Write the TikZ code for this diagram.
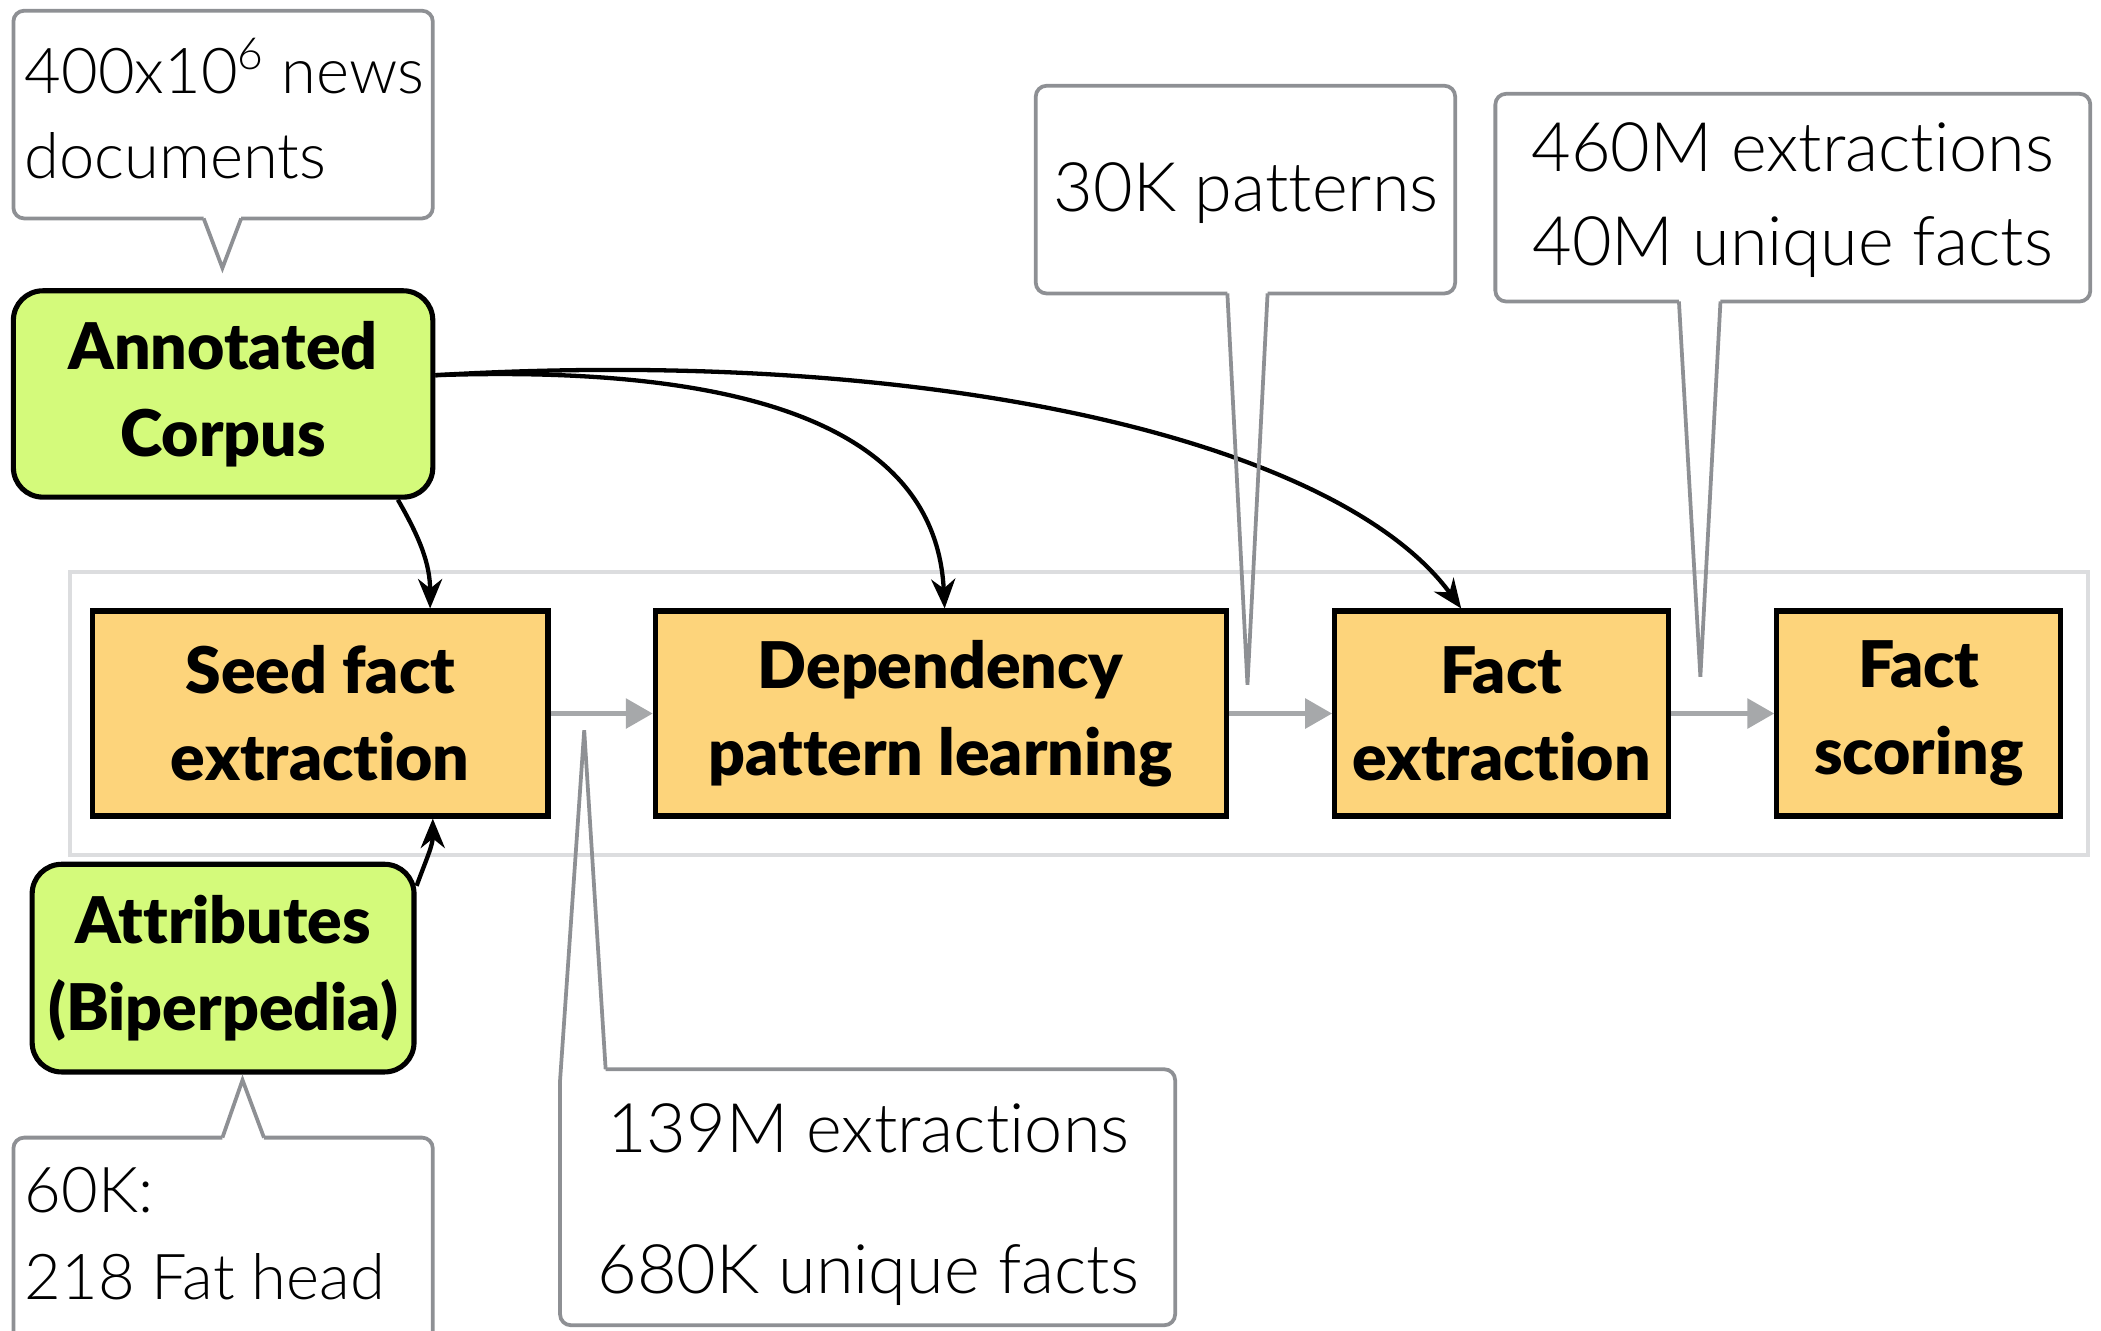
\documentclass[tikz,border=0pt]{standalone}
\usepackage{fontspec}
\setmainfont{Lato Light}[Ligatures=NoCommon]
\newfontfamily\heavyfont{Lato Black}[Ligatures=NoCommon]
\usetikzlibrary{arrows.meta}
\definecolor{limefill}{HTML}{D4FA7B}
\definecolor{peachfill}{HTML}{FDD47B}
\definecolor{calloutgray}{HTML}{8E9094}
\definecolor{framegray}{HTML}{DCDDDF}
\definecolor{flowgray}{HTML}{A6A8AA}
\begin{document}
\begin{tikzpicture}[x=0.5pt,y=-0.5pt,
  stagebox/.style={draw=black, line width=1.9pt, fill=peachfill, align=center,
    font=\heavyfont\fontsize{24}{32.5}\selectfont, inner sep=0pt, minimum height=76.5pt},
  sourcebox/.style={stagebox, fill=limefill, rounded corners=11pt, minimum height=77pt},
  frame/.style={draw=framegray, line width=1.5pt, inner sep=0pt},
  cline/.style={draw=calloutgray, line width=1.4pt},
  ctext/.style={font=\fontsize{25.5}{30}\selectfont, inner sep=0pt},
  ctextsmall/.style={font=\fontsize{23.6}{30}\selectfont, inner sep=0pt},
  flow/.style={draw=flowgray, line width=1.6pt, -{Triangle[length=10pt,width=11pt]}},
  feed/.style={draw=black, line width=1.6pt, -{Stealth[length=11pt,width=9pt]}}
]
\useasboundingbox (0,0) rectangle (1568,993);
\clip (0,0) rectangle (1568,993);

% pipeline frame
\node[frame, minimum width=753pt, minimum height=105.5pt] (pipeline) at (805,532.5) {};

% source nodes
\node[sourcebox, minimum width=156.5pt] (corpus) at (166.5,294) {Annotated\\Corpus};
\node[sourcebox, minimum width=142.5pt, minimum height=77.5pt] (attrs) at (166.5,722.5) {Attributes\\(Biperpedia)};

% stages
\node[stagebox, minimum width=170pt] (seed) at (239,532.5) {Seed fact\\extraction};
\node[stagebox, minimum width=213pt] (dep) at (702,532.5) {Dependency\\pattern learning};
\node[stagebox, minimum width=124.5pt] (fext) at (1120.5,532.5) {Fact\\extraction};
\node[stagebox, minimum width=106pt] (fscore) at (1432,532.5) {Fact\\scoring};

% flow arrows
\draw[flow] (seed) -- (dep);
\draw[flow] (dep) -- (fext);
\draw[flow] (fext) -- (fscore);

% feed arrows
\draw[feed] ([xshift=-14pt]corpus.south east) to[out=-60,in=90] ([xshift=41pt]seed.north);
\draw[feed] ([yshift=7pt]corpus.east) .. controls (620,270) and (700,350) .. ([xshift=1.5pt]dep.north);
\draw[feed] ([yshift=7pt]corpus.east) .. controls (700,258) and (1000,330) .. ([xshift=-15pt]fext.north);
\draw[feed] ([yshift=-9pt]attrs.north east) to[out=70,in=-90] ([xshift=42pt]seed.south);

% callout A
\draw[cline, rounded corners=4pt] (180,163) -- (323,163) -- (323,8) -- (10,8) -- (10,163) -- (152,163);
\draw[cline] (152,163) -- (166,200) -- (180,163);
\node[ctextsmall, anchor=base west] (a1) at (18,70) {400x10\textsuperscript{6} news};
\node[ctextsmall, anchor=base west] (a2) at (18,133) {documents};

% callout B
\draw[cline, rounded corners=4pt] (197,849) -- (323,849) -- (323,1010);
\draw[cline, rounded corners=4pt] (166,849) -- (10,849) -- (10,1010);
\draw[cline] (166,849) -- (181,806) -- (197,849);
\node[ctextsmall, anchor=base west] (b1) at (18,905) {60K:};
\node[ctextsmall, anchor=base west] (b2) at (18,970) {218 Fat head};

% callout C
\draw[cline, rounded corners=4pt] (452,798) -- (877,798) -- (877,989) -- (418,989) -- (418,806);
\draw[cline] (418,806) -- (436,545) -- (452,798);
\node[ctext, anchor=base] (c1) at (648,860) {139M extractions};
\node[ctext, anchor=base] (c2) at (648,965) {680K unique facts};

% callout D
\draw[cline, rounded corners=4pt] (946,219) -- (1086,219) -- (1086,64) -- (773,64) -- (773,219) -- (916,219);
\draw[cline] (916,219) -- (931,511) -- (946,219);
\node[ctext, anchor=base] (d1) at (930,158) {30K patterns};

% callout E
\draw[cline, rounded corners=4pt] (1284,225) -- (1560,225) -- (1560,70) -- (1116,70) -- (1116,225) -- (1253,225);
\draw[cline] (1253,225) -- (1269,505) -- (1284,225);
\node[ctext, anchor=base] (e1) at (1338,128) {460M extractions};
\node[ctext, anchor=base] (e2) at (1338,198) {40M unique facts};
\end{tikzpicture}
\end{document}
